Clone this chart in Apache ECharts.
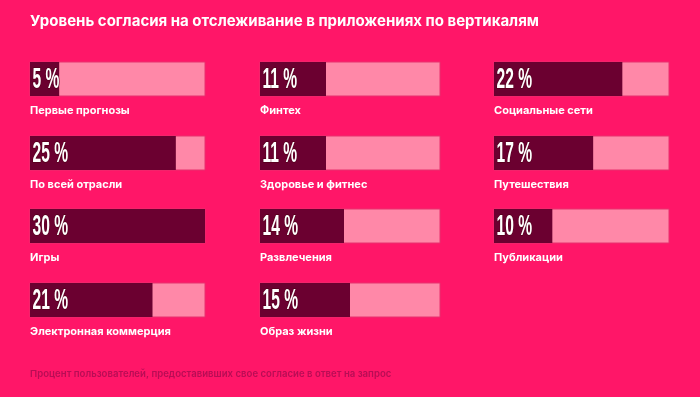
<!DOCTYPE html>
<html>
<head>
<meta charset="utf-8">
<script src="https://cdn.jsdelivr.net/npm/echarts@6/dist/echarts.min.js"></script>
<style>
  html, body { margin: 0; padding: 0; background: #ff1668; }
  #chart { width: 700px; height: 397px; }
</style>
</head>
<body>
<div id="chart"></div>
<script>
const titleText = "Уровень согласия на отслеживание в приложениях по вертикалям";
const footnoteText = "Процент пользователей, предоставивших свое согласие в ответ на запрос";

// column by column, top to bottom
const categories = [
  "Первые прогнозы", "По всей отрасли", "Игры", "Электронная коммерция",
  "Финтех", "Здоровье и фитнес", "Развлечения", "Образ жизни",
  "Социальные сети", "Путешествия", "Публикации",
];
const values = [5, 25, 30, 21, 11, 11, 14, 15, 22, 17, 10];
const axisMax = 30;

const COL_X = [30, 260, 494];
const COL_W = [175, 180, 175];
const ROW_Y = [62, 136, 209, 283];
const BAR_H = 34;
const ROWS = 4;

const chart = echarts.init(document.getElementById("chart"), null, { renderer: "canvas" });

const grids = [];
const xAxes = [];
const yAxes = [];
const series = [];
const titles = [
  {
    text: titleText,
    left: 30,
    top: 14,
    padding: 0,
    textStyle: { color: "#fff", fontFamily: "Inter", fontWeight: 700, fontSize: 15 },
  },
];

categories.forEach((name, i) => {
  const col = Math.floor(i / ROWS);
  const row = i % ROWS;
  grids.push({ left: COL_X[col], top: ROW_Y[row], width: COL_W[col], height: BAR_H });
  xAxes.push({ gridIndex: i, type: "value", min: 0, max: axisMax, show: false });
  yAxes.push({ gridIndex: i, type: "category", data: [name], show: false });

  series.push({
    type: "bar",
    xAxisIndex: i,
    yAxisIndex: i,
    data: [values[i]],
    barWidth: "100%",
    showBackground: true,
    backgroundStyle: { color: "#ff88a8", borderColor: "#e8306e", borderWidth: 1 },
    itemStyle: { color: "#6b0030" },
    silent: true,
  });
  // percent labels, narrow and tall
  series.push({
    type: "custom",
    xAxisIndex: i,
    yAxisIndex: i,
    data: [[values[i], 0]],
    silent: true,
    z: 10,
    clip: false,
    renderItem(params, api) {
      const p = api.coord([0, 0]);
      return {
        type: "text",
        x: p[0] + 2.5,
        y: p[1] + 1,
        scaleX: 0.52,
        style: {
          text: api.value(0) + " %",
          fontSize: 30,
          fontWeight: "bold",
          fontFamily: "Liberation Sans Narrow, Liberation Sans, sans-serif",
          fill: "#fff",
          stroke: "#5a0020",
          lineWidth: 2,
          align: "left",
          verticalAlign: "middle",
        },
      };
    },
  });

  titles.push({
    text: name,
    left: COL_X[col],
    top: ROW_Y[row] + BAR_H + 9,
    padding: 0,
    textStyle: { color: "#fff", fontFamily: "Inter", fontWeight: 700, fontSize: 11 },
  });
});

titles.push({
  text: footnoteText,
  left: 30,
  top: 369,
  padding: 0,
  textStyle: { color: "#b80d55", fontFamily: "Inter", fontWeight: 600, fontSize: 9.6 },
});

chart.setOption({
  animation: false,
  backgroundColor: "#ff1668",
  title: titles,
  grid: grids,
  xAxis: xAxes,
  yAxis: yAxes,
  series,
});
</script>
</body>
</html>
